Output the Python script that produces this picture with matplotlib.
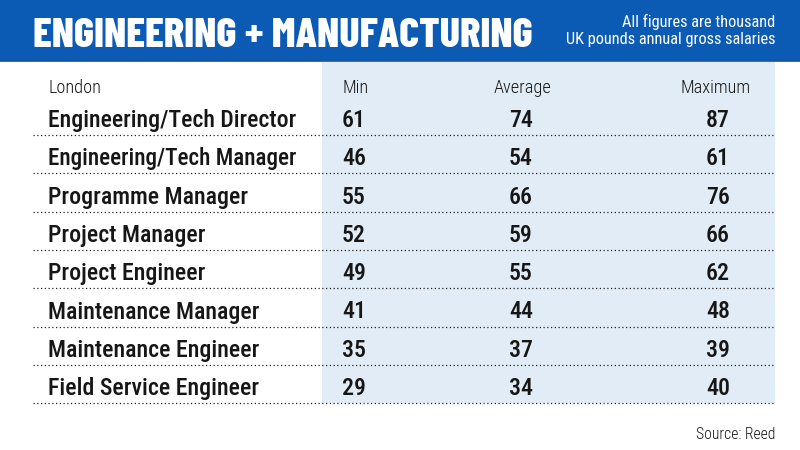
import matplotlib
matplotlib.use("Agg")
import matplotlib.pyplot as plt
from matplotlib import font_manager as fm
from matplotlib.patches import Rectangle
from matplotlib.textpath import TextPath
from matplotlib.font_manager import FontProperties

# ---- data ----
title = "ENGINEERING + MANUFACTURING"
subtitle = ["All figures are thousand", "UK pounds annual gross salaries"]
region = "London"
col_headers = ["Min", "Average", "Maximum"]
roles = ["Engineering/Tech Director", "Engineering/Tech Manager", "Programme Manager",
         "Project Manager", "Project Engineer", "Maintenance Manager",
         "Maintenance Engineer", "Field Service Engineer"]
min_vals = [61, 46, 55, 52, 49, 41, 35, 29]
avg_vals = [74, 54, 66, 59, 55, 44, 37, 34]
max_vals = [87, 61, 76, 66, 62, 48, 39, 40]
source = "Source: Reed"

weights = {}
for f in fm.fontManager.ttflist:
    try:
        w = int(f.weight)
    except Exception:
        w = {'bold': 700, 'normal': 400, 'medium': 500, 'light': 300}.get(str(f.weight), 400)
    weights.setdefault(f.name, set()).add(w)


def pick(cands, default):
    for fam, w in cands:
        if fam in weights and w in weights[fam]:
            return fam, w
    return default


TITLE_FAM, TITLE_W = pick([('Barlow Condensed', 800), ('Barlow Condensed', 700), ('Oswald', 700),
                           ('Fjalla One', 400), ('Roboto Condensed', 700)], ('DejaVu Sans', 700))
BODY_FAM, BODY_W = pick([('Roboto Condensed', 500), ('Barlow Semi Condensed', 500),
                         ('Asap Condensed', 500), ('Roboto Condensed', 400)], ('DejaVu Sans', 400))
LIGHT_FAM, LIGHT_W = pick([(BODY_FAM, 300), (BODY_FAM, 400)], (BODY_FAM, 400))
SUB_FAM, SUB_W = pick([(BODY_FAM, 400)], (BODY_FAM, BODY_W))

BLUE = '#0b5bb5'
PANEL = '#e2ecf6'
TXT = '#161616'

fig = plt.figure(figsize=(8, 4.5), dpi=100)
ax = fig.add_axes([0, 0, 1, 1])
ax.set_xlim(0, 800)
ax.set_ylim(450, 0)
ax.axis('off')
renderer = fig.canvas.get_renderer()


def cap_ratio(fam, weight):
    fp = FontProperties(family=fam, weight=weight)
    return TextPath((0, 0), 'H', size=100, prop=fp).get_extents().height / 100.0


def txt(x, y, s, cap_px, fam, weight=400, color=TXT, ha='left', max_w=None):
    size = cap_px / cap_ratio(fam, weight) * 0.72
    t = ax.text(x, y, s, fontsize=size, fontweight=weight, color=color, ha=ha,
                va='baseline', family=[fam, 'DejaVu Sans'])
    if max_w is not None:
        w = t.get_window_extent(renderer).width
        if w > max_w:
            t.set_fontsize(size * max_w / w)
    return t


# header band
ax.add_patch(Rectangle((0, 0), 800, 61, facecolor=BLUE, edgecolor='none'))
ax.plot([0, 800], [60.5, 60.5], color='#1d4f9e', lw=1.2)
# value panel
ax.add_patch(Rectangle((322, 61.5), 453, 341, facecolor=PANEL, edgecolor='none'))

txt(33, 47, title, 34, TITLE_FAM, weight=TITLE_W, color='white', max_w=500)
txt(775, 27, subtitle[0], 12, SUB_FAM, weight=SUB_W, color='white', ha='right', max_w=155)
txt(775, 44, subtitle[1], 12, SUB_FAM, weight=SUB_W, color='white', ha='right', max_w=212)

# column headers
hdr_y = 93
txt(48, hdr_y, region, 13, LIGHT_FAM, weight=LIGHT_W)
txt(342, hdr_y, col_headers[0], 13, LIGHT_FAM, weight=LIGHT_W)
txt(522, hdr_y, col_headers[1], 13, LIGHT_FAM, weight=LIGHT_W, ha='center')
txt(716, hdr_y, col_headers[2], 13, LIGHT_FAM, weight=LIGHT_W, ha='center')

y0, dy = 127, 38.3
for i, role in enumerate(roles):
    yb = y0 + i * dy
    txt(48, yb, role, 17, BODY_FAM, weight=BODY_W, max_w=248)
    txt(342, yb, str(min_vals[i]), 17, BODY_FAM, weight=BODY_W)
    txt(521, yb, str(avg_vals[i]), 17, BODY_FAM, weight=BODY_W, ha='center')
    txt(718, yb, str(max_vals[i]), 17, BODY_FAM, weight=BODY_W, ha='center')
    ly = yb + 8
    ax.plot([33, 775], [ly, ly], color='#222222', lw=0.9, ls=(0, (1, 2)))

txt(775, 439, source, 12.5, LIGHT_FAM, weight=LIGHT_W, ha='right', max_w=80)

fig.savefig('out.png', dpi=100)
